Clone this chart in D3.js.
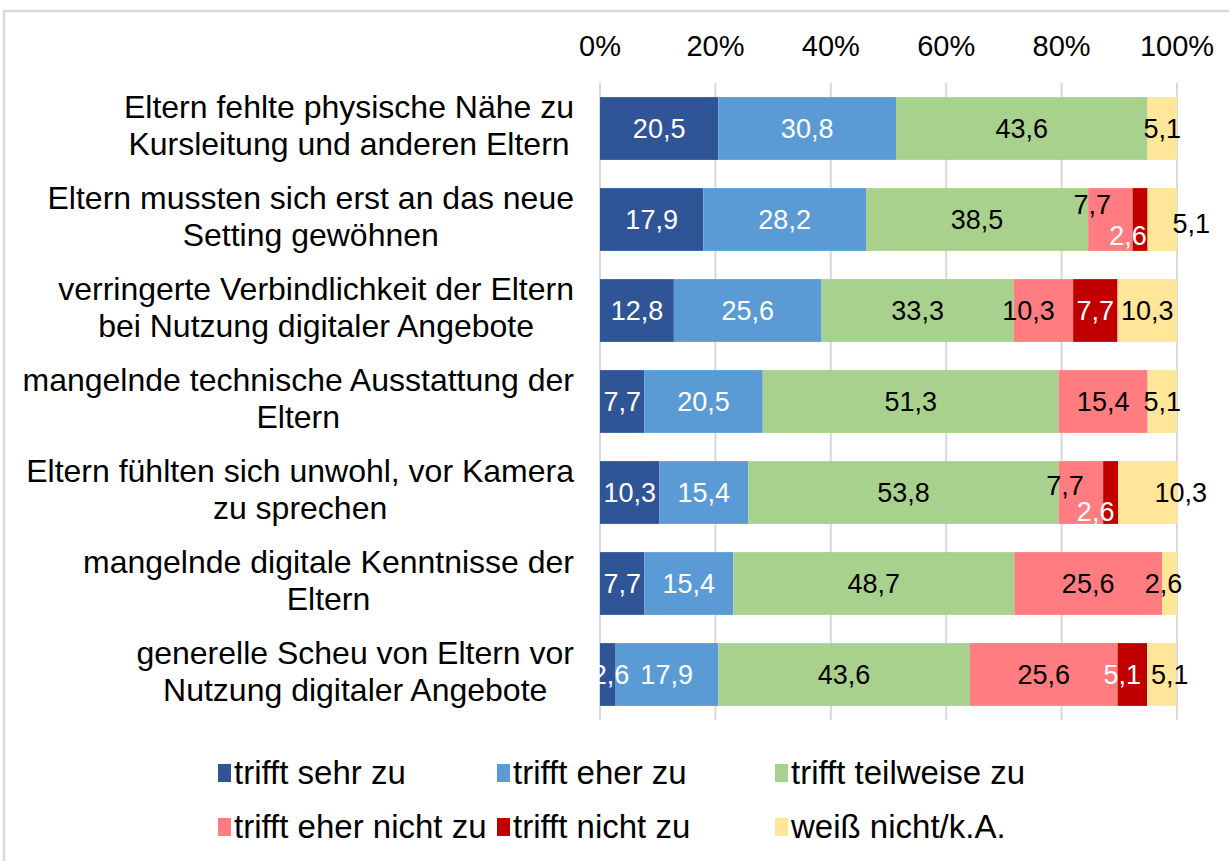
<!DOCTYPE html>
<meta charset="utf-8">
<style>
body { margin: 0; background: #fff; }
text { font-family: "Liberation Sans", Arial, sans-serif; fill: #000; }
.grid line { stroke: #d9d9d9; stroke-width: 2px; }
</style>
<div id="chart"></div>
<script src="https://d3js.org/d3.v7.min.js"></script>
<script>
  // categories (two lines each), top to bottom
  var categories = [
    ["Eltern fehlte physische Nähe zu", "Kursleitung und anderen Eltern"],
    ["Eltern mussten sich erst an das neue", "Setting gewöhnen"],
    ["verringerte Verbindlichkeit der Eltern", "bei Nutzung digitaler Angebote"],
    ["mangelnde technische Ausstattung der", "Eltern"],
    ["Eltern fühlten sich unwohl, vor Kamera", "zu sprechen"],
    ["mangelnde digitale Kenntnisse der", "Eltern"],
    ["generelle Scheu von Eltern vor", "Nutzung digitaler Angebote"]
  ];

  var series = ["trifft sehr zu", "trifft eher zu", "trifft teilweise zu",
                "trifft eher nicht zu", "trifft nicht zu", "weiß nicht/k.A."];

  var sehrZu     = [20.5, 17.9, 12.8,  7.7, 10.3,  7.7,  2.6];
  var eherZu     = [30.8, 28.2, 25.6, 20.5, 15.4, 15.4, 17.9];
  var teilweise  = [43.6, 38.5, 33.3, 51.3, 53.8, 48.7, 43.6];
  var eherNicht  = [ 0.0,  7.7, 10.3, 15.4,  7.7, 25.6, 25.6];
  var nichtZu    = [ 0.0,  2.6,  7.7,  0.0,  2.6,  0.0,  5.1];
  var weissNicht = [ 5.1,  5.1, 10.3,  5.1, 10.3,  2.6,  5.1];

  var xTicks = [0, 20, 40, 60, 80, 100];

  var colors = ["#2f5597", "#5b9bd5", "#a9d18e", "#ff7c80", "#c00000", "#ffe699"];
  var labelColors = ["#fff", "#fff", "#000", "#000", "#fff", "#000"];

  // label shifts where the original moved overlapping labels ("row,series": [dx, dy])
  var nudge = {
    "1,3": [-18, -15], "1,4": [-12, 16], "1,5": [29, 4],
    "2,3": [-15, 0],
    "4,3": [-16, -7], "4,4": [-15, 19], "4,5": [33, 0],
    "5,5": [-6, 0],
    "6,0": [3, 0], "6,4": [-10, 0], "6,5": [8, 0]
  };

  var width = 1229, height = 861;

  var svg = d3.select("#chart").append("svg")
    .attr("width", width)
    .attr("height", height);

  // outer frame
  svg.append("rect")
    .attr("x", 4).attr("y", 11)
    .attr("width", 1300).attr("height", 900)
    .attr("fill", "none")
    .attr("stroke", "#d9d9d9")
    .attr("stroke-width", 2.5);

  var x = d3.scaleLinear().domain([0, 100]).range([600, 1177]);
  var y = d3.scaleBand()
    .domain(d3.range(categories.length))
    .range([83, 720])
    .paddingInner(0.31)
    .paddingOuter(0.155);

  var columns = [sehrZu, eherZu, teilweise, eherNicht, nichtZu, weissNicht];
  var table = categories.map(function(c, i) {
    var row = { idx: i };
    series.forEach(function(s, j) { row[s] = columns[j][i]; });
    return row;
  });

  var stacked = d3.stack().keys(series)(table);

  // grid
  svg.append("g")
    .attr("class", "grid")
    .selectAll("line")
    .data(xTicks)
    .join("line")
    .attr("x1", function(d) { return x(d); })
    .attr("x2", function(d) { return x(d); })
    .attr("y1", 83)
    .attr("y2", 720);

  // top axis labels
  svg.append("g")
    .selectAll("text")
    .data(xTicks)
    .join("text")
    .attr("x", function(d) { return x(d); })
    .attr("y", 56)
    .attr("text-anchor", "middle")
    .style("font-size", "29px")
    .text(function(d) { return d + "%"; });

  // bars
  var layer = svg.append("g")
    .selectAll("g")
    .data(stacked)
    .join("g")
    .attr("fill", function(d, i) { return colors[i]; });

  layer.selectAll("rect")
    .data(function(d) { return d.filter(function(p) { return p[1] - p[0] > 0; }); })
    .join("rect")
    .attr("x", function(d) { return x(d[0]); })
    .attr("width", function(d) { return x(d[1]) - x(d[0]); })
    .attr("y", function(d) { return y(d.data.idx); })
    .attr("height", y.bandwidth());

  // data labels
  stacked.forEach(function(s, j) {
    svg.append("g")
      .selectAll("text")
      .data(s.filter(function(p) { return p[1] - p[0] > 0; }))
      .join("text")
      .attr("x", function(d) {
        var n = nudge[d.data.idx + "," + j];
        return x((d[0] + d[1]) / 2) + (n ? n[0] : 0);
      })
      .attr("y", function(d) {
        var n = nudge[d.data.idx + "," + j];
        return y(d.data.idx) + y.bandwidth() / 2 + (n ? n[1] : 0);
      })
      .attr("dy", "0.36em")
      .attr("text-anchor", "middle")
      .style("font-size", "27px")
      .style("fill", labelColors[j])
      .text(function(d) { return d.data[s.key].toFixed(1).replace(".", ","); });
  });

  // category labels: block centred, widest line flush against 573
  categories.forEach(function(lines, i) {
    var cy = y(i) + y.bandwidth() / 2;
    var g = svg.append("g");
    var t = g.selectAll("text")
      .data(lines)
      .join("text")
      .attr("y", function(d, k) { return cy - 10.5 + k * 37; })
      .attr("text-anchor", "middle")
      .style("font-size", "32px")
      .text(function(d) { return d; });
    var w = d3.max(t.nodes(), function(n) { return n.getComputedTextLength(); });
    t.attr("x", 574 - w / 2);
  });

  // legend
  var legX = [218, 497, 775];
  var legY = [784, 838];
  var legend = svg.append("g")
    .selectAll("g")
    .data(series)
    .join("g")
    .attr("transform", function(d, i) {
      return "translate(" + legX[i % 3] + "," + legY[Math.floor(i / 3)] + ")";
    });

  legend.append("rect")
    .attr("x", 0).attr("y", -20)
    .attr("width", 13).attr("height", 18)
    .attr("fill", function(d, i) { return colors[i]; });

  legend.append("text")
    .attr("x", 16)
    .attr("y", 0)
    .style("font-size", "33px")
    .text(function(d) { return d; });
</script>
